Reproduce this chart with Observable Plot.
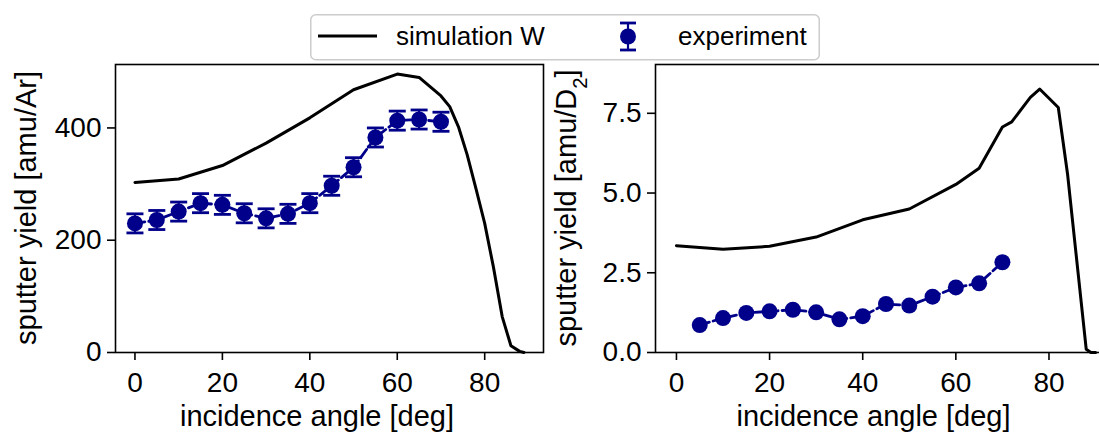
<!DOCTYPE html>
<html>
<head>
<meta charset="utf-8">
<script src="https://cdn.jsdelivr.net/npm/d3@7"></script>
<script src="https://cdn.jsdelivr.net/npm/@observablehq/plot@0.6"></script>
<style>
  html, body { margin: 0; padding: 0; background: #fff; overflow: hidden; }
  #chart { position: relative; width: 1099px; height: 432px; overflow: hidden;
           font-family: "Liberation Sans", Arial, Helvetica, sans-serif; }
  #legend { position: absolute; left: 310px; top: 14px; }
  #panels { position: absolute; left: 0; top: 62px; display: flex; }
  #panels svg { display: block; flex: none; }
</style>
</head>
<body>
<div id="chart">
  <div id="panels"></div>
  <div id="legend"></div>
</div>
<script>
// ---- tick positions ----
const angleTicks = [0, 20, 40, 60, 80];
const arYieldTicks = [0, 200, 400];
const dYieldTicks = [0, 2.5, 5, 7.5];

// ---- Ar on W: simulation curve ----
const simArAngle = [0, 10, 20, 30, 40, 50, 60, 65, 70, 72, 74, 76, 78, 80, 82, 84, 86, 88, 89];
const simArYield = [303, 309, 333, 373, 418, 468, 496, 490, 457, 438, 402, 352, 292, 230, 152, 64, 12, 2, 0];

// ---- Ar on W: experiment with error bars ----
const expArAngle = [0, 5, 10, 15, 20, 25, 30, 35, 40, 45, 50, 55, 60, 65, 70];
const expArYield = [230, 236, 251, 266, 263, 248, 239, 247, 266, 297, 330, 383, 413, 415, 411];
const expArError = [17, 17, 17, 17, 17, 17, 17, 17, 17, 17, 17, 17, 17, 17, 17];

// ---- D2 on W: simulation curve ----
const simDAngle = [0, 10, 20, 30, 40, 50, 60, 65, 70, 72, 76, 78, 82, 84, 88, 89, 90];
const simDYield = [3.35, 3.24, 3.33, 3.62, 4.16, 4.5, 5.27, 5.78, 7.07, 7.23, 8.0, 8.26, 7.68, 5.58, 0.1, 0, 0];

// ---- D2 on W: experiment ----
const expDAngle = [5, 10, 15, 20, 25, 30, 35, 40, 45, 50, 55, 60, 65, 70];
const expDYield = [0.86, 1.08, 1.24, 1.29, 1.34, 1.26, 1.04, 1.14, 1.52, 1.47, 1.75, 2.04, 2.17, 2.83];

const FONT = "'Liberation Sans', Arial, Helvetica, sans-serif";
const TICK_SIZE = 28;
const LABEL_SIZE = 29;
const LEGEND_SIZE = 26;
const EXP_COLOR = "#00008b";
const SVG_HEIGHT = 370;
const MARGIN_TOP = 2;
const MARGIN_BOTTOM = 80;

// horizontal error-bar cap drawn as a dot symbol
const capSymbol = {
  draw(context, size) {
    const w = Math.sqrt(size / Math.PI);
    context.moveTo(-w, 0);
    context.lineTo(w, 0);
  }
};

function zip(xs, ys, es) {
  return xs.map((x, i) => ({angle: x, value: ys[i], err: es ? es[i] : 0}));
}

function panel({width, marginLeft, marginRight, xDomain, yDomain, yTicks, yFormat,
                sim, exp, withErrors, ylabel}) {
  const marks = [
    Plot.frame({stroke: "black", strokeWidth: 1.6}),
    Plot.axisX({ticks: angleTicks, tickSize: 8, tickPadding: 12, label: null,
                fontSize: TICK_SIZE, stroke: "black", strokeWidth: 1.6}),
    Plot.axisY({ticks: yTicks, tickSize: 8, tickPadding: 6, label: null, tickFormat: yFormat,
                fontSize: TICK_SIZE, stroke: "black", strokeWidth: 1.6}),
    Plot.line(sim, {x: "angle", y: "value", stroke: "black", strokeWidth: 3,
                    strokeLinejoin: "round"}),
    Plot.line(exp, {x: "angle", y: "value", stroke: EXP_COLOR, strokeWidth: 2.8,
                    strokeDasharray: "10,4"})
  ];
  if (withErrors) {
    marks.push(
      Plot.ruleX(exp, {x: "angle", y1: d => d.value - d.err, y2: d => d.value + d.err,
                       stroke: EXP_COLOR, strokeWidth: 2.2}),
      Plot.dot(exp, {x: "angle", y: d => d.value - d.err, symbol: capSymbol, r: 8.5,
                     stroke: EXP_COLOR, strokeWidth: 2.8, fill: "none"}),
      Plot.dot(exp, {x: "angle", y: d => d.value + d.err, symbol: capSymbol, r: 8.5,
                     stroke: EXP_COLOR, strokeWidth: 2.8, fill: "none"})
    );
  }
  marks.push(Plot.dot(exp, {x: "angle", y: "value", r: 8, fill: EXP_COLOR, stroke: "none"}));

  const svg = Plot.plot({
    width, height: SVG_HEIGHT,
    marginLeft, marginRight, marginTop: MARGIN_TOP, marginBottom: MARGIN_BOTTOM,
    style: {fontFamily: FONT, fontSize: TICK_SIZE + "px", color: "black",
            background: "white", overflow: "visible"},
    x: {domain: xDomain},
    y: {domain: yDomain},
    marks
  });

  const plotW = width - marginLeft - marginRight;
  const plotH = SVG_HEIGHT - MARGIN_TOP - MARGIN_BOTTOM;
  const s = d3.select(svg);

  // x-axis title
  s.append("text")
    .attr("x", marginLeft + plotW / 2 - 12)
    .attr("y", MARGIN_TOP + plotH + 74)
    .attr("text-anchor", "middle")
    .attr("font-size", LABEL_SIZE)
    .attr("fill", "black")
    .text("incidence angle [deg]");

  // y-axis title (supports a subscript part)
  const yt = s.append("text")
    .attr("transform", `translate(${marginLeft - 79},${MARGIN_TOP + plotH / 2}) rotate(-90)`)
    .attr("text-anchor", "middle")
    .attr("font-size", LABEL_SIZE)
    .attr("fill", "black");
  yt.append("tspan").text(ylabel.main);
  if (ylabel.sub) {
    yt.append("tspan").attr("baseline-shift", "sub").attr("font-size", LABEL_SIZE * 0.7).text(ylabel.sub);
    yt.append("tspan").text(ylabel.after);
  }
  return svg;
}

const panels = document.getElementById("panels");

panels.appendChild(panel({
  width: 549, marginLeft: 115, marginRight: 6,
  xDomain: [-4.45, 93.45], yDomain: [0, 513],
  yTicks: arYieldTicks, yFormat: d => String(d),
  sim: zip(simArAngle, simArYield),
  exp: zip(expArAngle, expArYield, expArError),
  withErrors: true,
  ylabel: {main: "sputter yield [amu/Ar]"}
}));

panels.appendChild(panel({
  width: 573, marginLeft: 106, marginRight: 6,
  xDomain: [-4.5, 94.5], yDomain: [0, 9.03],
  yTicks: dYieldTicks, yFormat: d3.format(".1f"),
  sim: zip(simDAngle, simDYield),
  exp: zip(expDAngle, expDYield),
  withErrors: false,
  ylabel: {main: "sputter yield [amu/D", sub: "2", after: "]"}
}));

// ---- legend ----
const lg = d3.select("#legend").append("svg")
  .attr("width", 510).attr("height", 47)
  .style("display", "block")
  .style("font-family", FONT);
lg.append("rect")
  .attr("x", 0.75).attr("y", 0.75).attr("width", 508.5).attr("height", 45)
  .attr("rx", 5).attr("fill", "white").attr("stroke", "#cccccc").attr("stroke-width", 1.5);
lg.append("line")
  .attr("x1", 8).attr("x2", 67).attr("y1", 22).attr("y2", 22)
  .attr("stroke", "black").attr("stroke-width", 3);
lg.append("text")
  .attr("x", 86).attr("y", 31).attr("font-size", LEGEND_SIZE).attr("fill", "black")
  .text("simulation W");
const ex = 318;
lg.append("line").attr("x1", ex).attr("x2", ex).attr("y1", 9).attr("y2", 36)
  .attr("stroke", EXP_COLOR).attr("stroke-width", 2.2);
lg.append("line").attr("x1", ex - 8).attr("x2", ex + 8).attr("y1", 9).attr("y2", 9)
  .attr("stroke", EXP_COLOR).attr("stroke-width", 2.8);
lg.append("line").attr("x1", ex - 8).attr("x2", ex + 8).attr("y1", 36).attr("y2", 36)
  .attr("stroke", EXP_COLOR).attr("stroke-width", 2.8);
lg.append("circle").attr("cx", ex).attr("cy", 22.5).attr("r", 8).attr("fill", EXP_COLOR);
lg.append("text")
  .attr("x", 368).attr("y", 31).attr("font-size", LEGEND_SIZE).attr("fill", "black")
  .text("experiment");
</script>
</body>
</html>
